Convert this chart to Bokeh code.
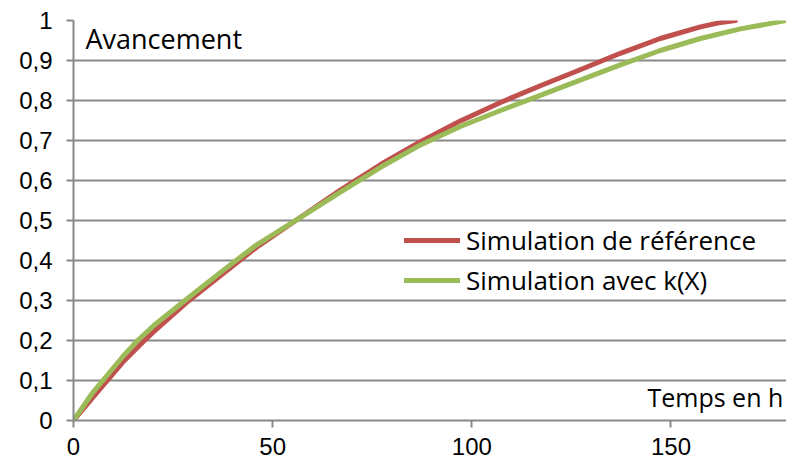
from bokeh.plotting import figure
from bokeh.models import Range1d, Legend, LegendItem, Label, FixedTicker, CustomJSTickFormatter
from bokeh.embed import file_html
from bokeh.resources import INLINE

# Data
t_ref = [0, 4.85, 12.4, 17.8, 20.7, 29.0, 37.4, 45.8, 57.0, 67.0, 77.1, 87.1, 97.1, 107.2,
         117.2, 127.2, 137.3, 147.3, 157.4, 162.0, 166.2]
y_ref = [0, 0.058, 0.146, 0.200, 0.227, 0.300, 0.366, 0.432, 0.508, 0.576, 0.640, 0.697, 0.749, 0.795,
         0.837, 0.877, 0.918, 0.955, 0.984, 0.994, 1.0]

t_kx = [0, 4.85, 12.4, 16.1, 20.7, 29.0, 37.4, 45.8, 57.0, 67.0, 77.1, 87.1, 97.1, 107.2,
        117.2, 127.2, 137.3, 147.3, 157.4, 167.4, 175.8, 178.9]
y_kx = [0, 0.070, 0.1600, 0.200, 0.242, 0.308, 0.374, 0.438, 0.508, 0.571, 0.633, 0.689, 0.735, 0.775,
        0.813, 0.851, 0.889, 0.925, 0.955, 0.979, 0.994, 1.0]

x_ticks = [0, 50, 100, 150]
y_ticks = [0, 0.1, 0.2, 0.3, 0.4, 0.5, 0.6, 0.7, 0.8, 0.9, 1.0]

labels = ["Simulation de référence", "Simulation avec k(X)"]
colors = ["#c0504d", "#9bbb59"]

GRID = "#888888"
TXT_FONT = "Open Sans"

p = figure(width=786, height=461, output_backend="svg", toolbar_location=None,
           x_range=Range1d(0, 179), y_range=Range1d(0, 1.0),
           min_border_left=73, min_border_right=0, min_border_top=20, min_border_bottom=41)
p.outline_line_color = None
p.background_fill_color = "white"
p.border_fill_color = "white"

p.xgrid.visible = False
p.ygrid.ticker = FixedTicker(ticks=y_ticks)
p.ygrid.grid_line_color = GRID
p.ygrid.grid_line_width = 2

p.xaxis.ticker = FixedTicker(ticks=x_ticks)
p.yaxis.ticker = FixedTicker(ticks=y_ticks)
p.yaxis.formatter = CustomJSTickFormatter(code="return (Math.round(tick*10)/10).toString().replace('.', ',');")
p.yaxis.bounds = (0, 1)
for ax in (p.xaxis[0], p.yaxis[0]):
    ax.axis_line_color = GRID
    ax.axis_line_width = 2
    ax.major_tick_line_color = GRID
    ax.major_tick_line_width = 2
    ax.major_tick_out = 7
    ax.major_tick_in = 0
    ax.minor_tick_line_color = None
    ax.major_label_text_font = "Liberation Sans"
    ax.major_label_text_font_size = "24px"
    ax.major_label_text_color = "#000000"
p.yaxis.major_label_standoff = 14
p.xaxis.major_label_standoff = 10

r1 = p.line(t_ref, y_ref, line_color=colors[0], line_width=5, line_cap="round", line_join="round")
r2 = p.line(t_kx, y_kx, line_color=colors[1], line_width=5, line_cap="round", line_join="round")

legend = Legend(items=[LegendItem(label=labels[0], renderers=[r1]),
                       LegendItem(label=labels[1], renderers=[r2])],
                location=(331, 122))
legend.background_fill_alpha = 0
legend.border_line_alpha = 0
legend.padding = 0
legend.margin = 0
legend.spacing = 4
legend.glyph_width = 56
legend.glyph_height = 36
legend.label_height = 36
legend.label_standoff = 6
legend.label_text_font = TXT_FONT
legend.label_text_font_size = "26px"
legend.label_text_color = "#000000"
p.add_layout(legend)

p.add_layout(Label(x=3.0, y=0.955, text="Avancement", text_font=TXT_FONT,
                   text_font_size="27px", text_color="#000000", text_baseline="alphabetic"))
p.add_layout(Label(x=178.2, y=0.06, text="Temps en h", text_font=TXT_FONT,
                   text_font_size="25px", text_color="#000000", text_baseline="alphabetic",
                   text_align="right"))

open("out.html", "w").write(file_html(p, INLINE))
